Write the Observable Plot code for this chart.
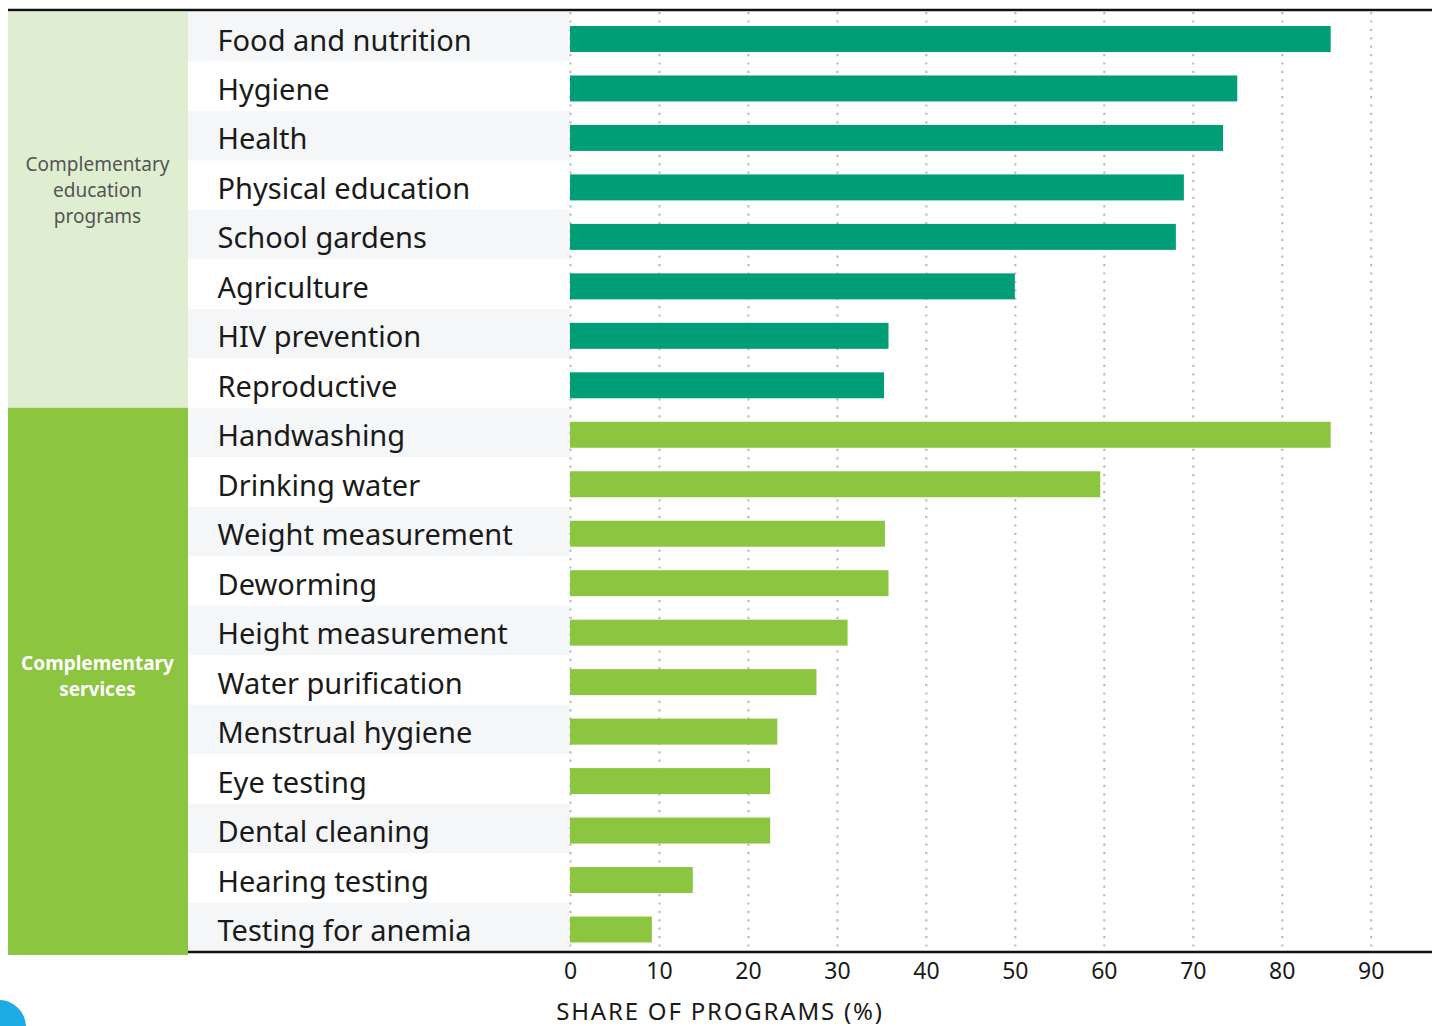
<!DOCTYPE html>
<html><head><meta charset="utf-8">
<script src="https://cdn.jsdelivr.net/npm/d3@7"></script>
<script src="https://cdn.jsdelivr.net/npm/@observablehq/plot@0.6"></script>
<style>
body{margin:0;background:#fff;}
#chart{position:relative;width:1439px;height:1026px;overflow:hidden;}
.logo{position:absolute;left:-28px;top:1000px;width:54px;height:54px;border-radius:50%;background:#1cabe2;}
</style></head><body><div id="chart"><div class="logo"></div></div>
<script>
const categories = ["Food and nutrition","Hygiene","Health","Physical education","School gardens","Agriculture","HIV prevention","Reproductive","Handwashing","Drinking water","Weight measurement","Deworming","Height measurement","Water purification","Menstrual hygiene","Eye testing","Dental cleaning","Hearing testing","Testing for anemia"];
const values = [85.5,75,73.4,69,68.1,50,35.8,35.3,85.5,59.6,35.4,35.8,31.2,27.7,23.3,22.5,22.5,13.8,9.2];
const groupNames = ["Complementary education programs","Complementary services"];
const groupOf = [0,0,0,0,0,0,0,0,1,1,1,1,1,1,1,1,1,1,1];
const groupLabels = ["Complementary\neducation\nprograms","Complementary\nservices"];
const groupLabelRow = ["Physical education","Water purification"];
const xTicks = [0,10,20,30,40,50,60,70,80,90];
const axisTitle = "SHARE OF PROGRAMS (%)";

const colors = {bars:["#009e76","#8cc540"], panels:["#dfedd0","#8cc540"], band:"#f5f6f8", text:"#1a1a1a"};
const FONT = "'Noto Sans', sans-serif";

const data = categories.map((c,i)=>({category:c, value:values[i], group:groupNames[groupOf[i]], idx:i}));
const groupData = groupNames.map((g,i)=>({group:g, label:groupLabels[i], row:groupLabelRow[i], gi:i}));

const backdrop = (index, scales, vals, dims) => {
  const g = d3.create("svg:g");
  const y = scales.y, bw = y.bandwidth();
  const labelX0 = 188, panelX0 = 8, right = dims.width - 7;
  const plotLeft = dims.marginLeft;
  categories.forEach((c,i)=>{
    if (i % 2 === 0) g.append("rect").attr("x",labelX0).attr("y",y(c)).attr("width",plotLeft-labelX0).attr("height",bw).attr("fill",colors.band);
  });
  groupNames.forEach((gn,gi)=>{
    const rows = categories.filter((c,i)=>groupOf[i]===gi);
    const y0 = y(rows[0]), y1 = y(rows[rows.length-1]) + bw + (gi===1 ? 3 : 0);
    g.append("rect").attr("x",panelX0).attr("y",y0).attr("width",labelX0-panelX0).attr("height",y1-y0).attr("fill",colors.panels[gi]);
  });
  g.append("line").attr("x1",panelX0).attr("x2",right).attr("y1",dims.marginTop-2).attr("y2",dims.marginTop-2).attr("stroke","#111").attr("stroke-width",2.5);
  const yb = dims.height - dims.marginBottom;
  g.append("line").attr("x1",labelX0).attr("x2",right).attr("y1",yb).attr("y2",yb).attr("stroke","#111").attr("stroke-width",2.5);
  return g.node();
};

const chart = Plot.plot({
  width: 1439, height: 1026,
  marginLeft: 570, marginRight: 6, marginTop: 12, marginBottom: 74,
  style: {fontFamily: FONT, background: "transparent", overflow: "visible"},
  x: {domain: [0, 97], ticks: xTicks, label: null},
  y: {domain: categories, padding: 0, round: false, axis: null},
  color: {domain: groupNames, range: colors.bars},
  marks: [
    backdrop,
    Plot.gridX(xTicks, {stroke: "#bdbdbd", strokeOpacity: 1, strokeWidth: 2.2, strokeDasharray: "2.2,6.2"}),
    Plot.barX(data, {x: "value", y: "category", fill: "group", insetTop: 14, insetBottom: 9.5}),
    Plot.text(data, {y: "category", text: "category", frameAnchor: "left", dx: -353, dy: 4, textAnchor: "start", fontSize: 29, fill: colors.text}),
    Plot.text(groupData.filter(d=>d.gi===0), {y: "row", text: "label", frameAnchor: "left", dx: -473, dy: 3, textAnchor: "middle", fontSize: 19, lineHeight: 1.38, fill: "#555"}),
    Plot.text(groupData.filter(d=>d.gi===1), {y: "row", text: "label", frameAnchor: "left", dx: -473, dy: -6, textAnchor: "middle", fontSize: 19, lineHeight: 1.38, fill: "#fff", fontWeight: "bold"}),
    Plot.axisX({ticks: xTicks, tickSize: 0, tickPadding: 10, fontSize: 23, label: null, color: colors.text}),
    Plot.text([axisTitle], {frameAnchor: "bottom", lineAnchor: "middle", dx: -282, dy: 60, text: d => d, fontSize: 24, fill: colors.text})
  ]
});
d3.select(chart).selectAll("text").filter(function(){ return this.textContent === axisTitle; }).style("letter-spacing", "1.8px");
document.getElementById("chart").appendChild(chart);
</script>
</body></html>
